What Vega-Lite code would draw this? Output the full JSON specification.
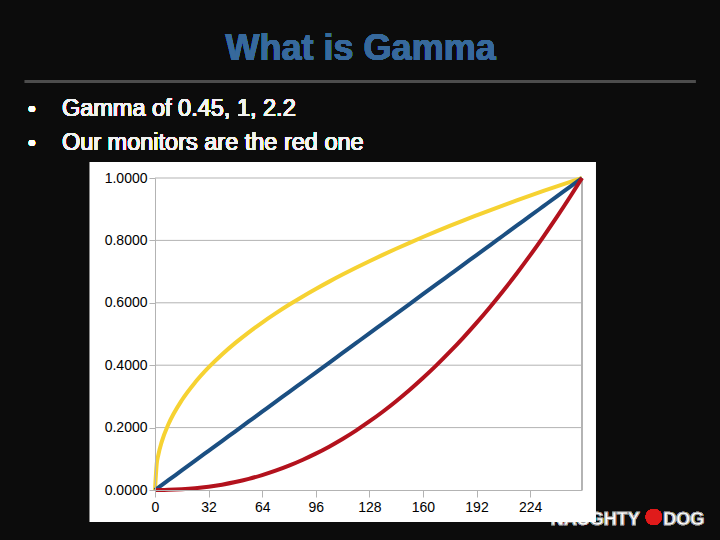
{
  "$schema": "https://vega.github.io/schema/vega-lite/v6.json",
  "width": 427,
  "height": 312,
  "autosize": {"type": "none"},
  "padding": {"left": 155, "top": 178, "right": 138, "bottom": 50},
  "background": "#0c0c0c",
  "config": {"view": {"stroke": null}, "font": "Liberation Sans"},
  "datasets": {
    "gamma": [
      {"x": 0, "g045": 0, "g1": 0, "g22": 0},
      {"x": 1, "g045": 0.0826, "g1": 0.0039, "g22": 0.0000},
      {"x": 2, "g045": 0.1129, "g1": 0.0078, "g22": 0.0000},
      {"x": 4, "g045": 0.1542, "g1": 0.0157, "g22": 0.0001},
      {"x": 8, "g045": 0.2106, "g1": 0.0314, "g22": 0.0005},
      {"x": 16, "g045": 0.2877, "g1": 0.0627, "g22": 0.0023},
      {"x": 24, "g045": 0.3452, "g1": 0.0941, "g22": 0.0055},
      {"x": 32, "g045": 0.3930, "g1": 0.1255, "g22": 0.0104},
      {"x": 40, "g045": 0.4345, "g1": 0.1569, "g22": 0.0170},
      {"x": 48, "g045": 0.4716, "g1": 0.1882, "g22": 0.0254},
      {"x": 56, "g045": 0.5055, "g1": 0.2196, "g22": 0.0356},
      {"x": 64, "g045": 0.5368, "g1": 0.2510, "g22": 0.0478},
      {"x": 72, "g045": 0.5660, "g1": 0.2824, "g22": 0.0619},
      {"x": 80, "g045": 0.5936, "g1": 0.3137, "g22": 0.0781},
      {"x": 88, "g045": 0.6196, "g1": 0.3451, "g22": 0.0963},
      {"x": 96, "g045": 0.6443, "g1": 0.3765, "g22": 0.1166},
      {"x": 104, "g045": 0.6679, "g1": 0.4078, "g22": 0.1390},
      {"x": 112, "g045": 0.6905, "g1": 0.4392, "g22": 0.1636},
      {"x": 120, "g045": 0.7123, "g1": 0.4706, "g22": 0.1904},
      {"x": 128, "g045": 0.7334, "g1": 0.5020, "g22": 0.2196},
      {"x": 136, "g045": 0.7536, "g1": 0.5333, "g22": 0.2508},
      {"x": 144, "g045": 0.7733, "g1": 0.5647, "g22": 0.2845},
      {"x": 152, "g045": 0.7923, "g1": 0.5961, "g22": 0.3204},
      {"x": 160, "g045": 0.8108, "g1": 0.6275, "g22": 0.3587},
      {"x": 168, "g045": 0.8288, "g1": 0.6588, "g22": 0.3993},
      {"x": 176, "g045": 0.8464, "g1": 0.6902, "g22": 0.4424},
      {"x": 184, "g045": 0.8635, "g1": 0.7216, "g22": 0.4878},
      {"x": 192, "g045": 0.8801, "g1": 0.7529, "g22": 0.5356},
      {"x": 200, "g045": 0.8965, "g1": 0.7843, "g22": 0.5860},
      {"x": 208, "g045": 0.9124, "g1": 0.8157, "g22": 0.6388},
      {"x": 216, "g045": 0.9280, "g1": 0.8471, "g22": 0.6940},
      {"x": 224, "g045": 0.9433, "g1": 0.8784, "g22": 0.7519},
      {"x": 232, "g045": 0.9584, "g1": 0.9098, "g22": 0.8123},
      {"x": 240, "g045": 0.9731, "g1": 0.9412, "g22": 0.8751},
      {"x": 248, "g045": 0.9876, "g1": 0.9725, "g22": 0.9406},
      {"x": 255, "g045": 1, "g1": 1, "g22": 1}
    ],
    "grid": [{"g": 0.2}, {"g": 0.4}, {"g": 0.6}, {"g": 0.8}, {"g": 1.0}]
  },
  "data": {"name": "gamma"},
  "layer": [
    {
      "mark": {"type": "text", "text": "NAUGHTY", "align": "right", "baseline": "alphabetic", "fontSize": 18, "fontWeight": "bold", "color": "#ffffff", "stroke": "#777777", "strokeWidth": 0.5},
      "encoding": {"x": {"datum": 289.5, "type": "quantitative"}, "y": {"datum": -0.1122, "type": "quantitative"}}
    },
    {
      "mark": {"type": "point", "filled": true, "color": "#e01b1b", "size": 260, "opacity": 1},
      "encoding": {"x": {"datum": 297.8, "type": "quantitative"}, "y": {"datum": -0.0865, "type": "quantitative"}}
    },
    {
      "mark": {"type": "text", "text": "DOG", "align": "left", "baseline": "alphabetic", "fontSize": 18, "fontWeight": "bold", "color": "#ffffff", "stroke": "#777777", "strokeWidth": 0.5},
      "encoding": {"x": {"datum": 303.5, "type": "quantitative"}, "y": {"datum": -0.1122, "type": "quantitative"}}
    },
    {
      "mark": {"type": "rect", "color": "#ffffff"},
      "encoding": {
        "x": {"datum": -38.83, "type": "quantitative"},
        "x2": {"datum": 262.84},
        "y": {"datum": 1.0513, "type": "quantitative"},
        "y2": {"datum": -0.1026}
      }
    },
    {
      "data": {"name": "grid"},
      "mark": {"type": "rule", "color": "#b3b3b3", "strokeWidth": 1},
      "encoding": {"y": {"field": "g", "type": "quantitative"}}
    },
    {
      "mark": {"type": "rule", "color": "#b3b3b3", "strokeWidth": 1},
      "encoding": {
        "x": {"datum": 255, "type": "quantitative"},
        "y": {"datum": 0, "type": "quantitative"},
        "y2": {"datum": 1}
      }
    },
    {
      "transform": [{"fold": ["g045", "g1", "g22"], "as": ["series", "val"]}],
      "mark": {"type": "line", "strokeWidth": 4, "interpolate": "monotone"},
      "encoding": {
        "x": {
          "field": "x", "type": "quantitative",
          "scale": {"domain": [0, 255], "nice": false, "zero": false},
          "axis": {"title": null, "values": [0, 32, 64, 96, 128, 160, 192, 224], "grid": false, "zindex": 1,
                   "domainColor": "#b3b3b3", "tickColor": "#b3b3b3", "tickSize": 7, "labelPadding": 3,
                   "labelColor": "#000000", "labelFontSize": 14, "labelFont": "Liberation Sans", "labelFlush": false}
        },
        "y": {
          "field": "val", "type": "quantitative",
          "scale": {"domain": [0, 1], "nice": false},
          "axis": {"title": null, "values": [0, 0.2, 0.4, 0.6, 0.8, 1.0], "format": ".4f", "grid": false, "zindex": 1,
                   "domainColor": "#b3b3b3", "tickColor": "#b3b3b3", "tickSize": 6, "labelPadding": 2,
                   "labelColor": "#000000", "labelFontSize": 14, "labelFont": "Liberation Sans", "labelFlush": false}
        },
        "color": {
          "field": "series", "type": "nominal",
          "scale": {"domain": ["g045", "g1", "g22"], "range": ["#f6d232", "#1b4f82", "#b3121d"]},
          "legend": null
        }
      }
    },
    {
      "mark": {"type": "text", "text": "What is Gamma", "align": "center", "baseline": "alphabetic", "fontSize": 36, "fontWeight": "bold", "color": "#37699c"},
      "encoding": {"x": {"datum": 122.8, "type": "quantitative"}, "y": {"datum": 1.378, "type": "quantitative"}}
    },
    {
      "mark": {"type": "rule", "color": "#4d4d4d", "strokeWidth": 3},
      "encoding": {
        "x": {"datum": -77.66, "type": "quantitative"},
        "x2": {"datum": 322.58},
        "y": {"datum": 1.3093, "type": "quantitative"}
      }
    },
    {
      "mark": {"type": "text", "text": "•\n•", "lineBreak": "\n", "lineHeight": 34, "align": "left", "baseline": "alphabetic", "fontSize": 22, "fontWeight": "normal", "color": "#ffffff"},
      "encoding": {"x": {"datum": -75.9, "type": "quantitative"}, "y": {"datum": 1.1987, "type": "quantitative"}}
    },
    {
      "mark": {"type": "text", "text": "Gamma of 0.45, 1, 2.2\nOur monitors are the red one", "lineBreak": "\n", "lineHeight": 34, "align": "left", "baseline": "alphabetic", "fontSize": 23.5, "fontWeight": "normal", "color": "#f2f2f2"},
      "encoding": {"x": {"datum": -55.6, "type": "quantitative"}, "y": {"datum": 1.1987, "type": "quantitative"}}
    }
  ]
}
